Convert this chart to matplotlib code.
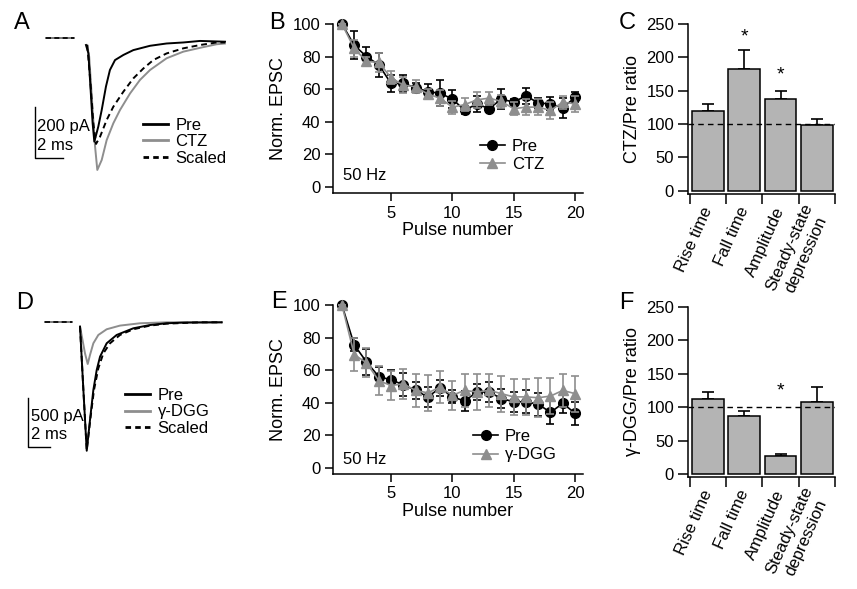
import matplotlib
matplotlib.use("Agg")
import matplotlib.pyplot as plt
from matplotlib.lines import Line2D

plt.rcParams['font.family'] = ['Liberation Sans', 'DejaVu Sans']
plt.rcParams['axes.linewidth'] = 1.1

W, H = 857, 589
fig = plt.figure(figsize=(W / 100, H / 100), dpi=100)

def px_axes(x0, y0, x1, y1):
    return fig.add_axes([x0 / W, 1 - y1 / H, (x1 - x0) / W, (y1 - y0) / H])

def fx(px):
    return px / W

def fy(py):
    return 1 - py / H

# ---------------- data ----------------
# Panel A traces (time in ms, current in pA), digitized
a_base_t = [-2.82, -2.3, -1.8, -1.3, -0.85]
a_base_i = [13, 13, 13, 13, 13]
a_pre_t = [0.0, 0.17, 0.33, 0.47, 0.59, 0.87, 1.11, 1.41, 1.69, 2.05, 2.64, 3.34, 4.52, 5.69, 6.87, 8.05, 9.81]
a_pre_i = [-13, -45, -190, -320, -392, -333, -268, -176, -111, -72, -52, -33, -16, -7, -3, 3, 0]
a_ctz_t = [0.09, 0.23, 0.47, 0.64, 0.8, 1.11, 1.46, 1.93, 2.4, 3.11, 3.81, 4.52, 5.69, 6.87, 8.05, 9.22, 9.81]
a_ctz_i = [-13, -60, -268, -410, -503, -464, -386, -320, -268, -203, -150, -111, -65, -39, -24, -10, -7]
a_scl_t = [0.09, 0.3, 0.52, 0.71, 0.99, 1.46, 1.93, 2.64, 3.34, 4.05, 4.75, 5.69, 6.87, 8.05, 9.22, 9.81]
a_scl_i = [-13, -150, -320, -401, -373, -307, -255, -196, -144, -105, -72, -46, -26, -13, -3, -3]
a_bar_ms, a_bar_pA = 2, 200

# Panel D traces
d_base_t = [-3.23, -2.6, -2.0, -1.4, -0.77]
d_base_i = [7, 7, 7, 7, 7]
d_pre_t = [0.0, 0.31, 0.62, 0.92, 1.23, 1.54, 1.85, 2.46, 3.38, 4.92, 6.46, 8.0, 9.54, 13.08]
d_pre_i = [-45, -700, -1328, -1010, -700, -493, -355, -217, -131, -62, -28, -10, -3, 0]
d_dgg_t = [0.0, 0.46, 0.71, 0.92, 1.23, 1.69, 2.46, 3.69, 5.54, 8.0, 13.08]
d_dgg_i = [-45, -321, -431, -338, -217, -131, -72, -34, -10, 0, 0]
d_scl_t = [0.0, 0.31, 0.62, 0.98, 1.29, 1.69, 2.15, 2.77, 3.69, 4.92, 6.46, 8.0, 11.08, 13.08]
d_scl_i = [-45, -700, -1321, -976, -700, -476, -321, -217, -131, -72, -34, -14, 0, 0]
d_bar_ms, d_bar_pA = 2, 500

# Panels B / E
pulses = [1, 2, 3, 4, 5, 6, 7, 8, 9, 10, 11, 12, 13, 14, 15, 16, 17, 18, 19, 20]
b_pre = [100, 87, 80, 75, 63.5, 63.5, 61, 58.5, 57.5, 54, 47, 51, 48, 54, 52, 56, 51.5, 51, 48.5, 55]
b_pre_err = [0, 8.5, 6, 7.5, 5.5, 5, 3, 4.5, 8, 5.5, 2.5, 5, 2, 6, 2, 5, 3, 4, 6, 3]
b_ctz = [100, 85, 77, 76.5, 67, 62.5, 61.5, 57, 54.5, 49, 50.5, 53.5, 54.5, 52.5, 48, 49, 49, 47, 52, 51]
b_ctz_err = [0, 5, 3, 6, 4, 5, 4, 3, 5, 4, 4, 5, 4, 4, 4, 5, 5, 5, 4, 5]

e_pre = [100, 75.5, 65, 56, 54, 51, 47.5, 43.5, 49, 43.5, 41, 46.5, 46.5, 42.5, 40.5, 40.5, 39, 34, 39.5, 33.5]
e_pre_err = [0, 4, 8, 6, 6, 7, 5, 6, 5, 4, 6, 5, 6, 6, 6, 7, 7, 7, 6, 7]
e_dgg = [100, 69.5, 64.5, 53.5, 50.5, 51.5, 47.5, 46, 49.5, 44.5, 47.5, 46.5, 47.5, 45.5, 43.5, 43.5, 43, 44, 47.5, 45.5]
e_dgg_err = [0, 10, 9, 9, 9, 9, 10, 11, 10, 9, 10, 11, 10, 11, 11, 11, 12, 11, 10, 11]

# Panels C / F
categories = ['Rise time', 'Fall time', 'Amplitude', 'Steady-state\ndepression']
ctz_ratio = [120, 182.5, 138, 99]
ctz_ratio_err = [10, 28.5, 12, 8]
ctz_star = [None, 224, None, None]
ctz_star2 = [None, None, 167, None]
dgg_ratio = [112.5, 87.5, 26.5, 108.5]
dgg_ratio_err = [10, 7.5, 3.5, 21]
dgg_star = [None, None, 117, None]

GRAY = '#8e8e8e'
BAR = '#b4b4b4'
FS = 12

# ---------------- trace panels ----------------
def trace_panel(box, xlim, ylim, base_t, base_i, pre, drug, scl, bar, bar_texts, leg_labels, leg_pos):
    ax = px_axes(*box)
    ax.set_xlim(*xlim)
    ax.set_ylim(*ylim)
    ax.axis('off')
    for col, ls in (('black', '-'), (GRAY, '-'), ('black', (0, (3, 2)))):
        ax.plot(base_t, base_i, color=col, lw=1.2, ls=ls)
    ax.plot(drug[0], drug[1], color=GRAY, lw=1.4, label=leg_labels[1])
    ax.plot(pre[0], pre[1], color='black', lw=1.4, label=leg_labels[0])
    ax.plot(scl[0], scl[1], color='black', lw=1.4, ls=(0, (3, 2)), label=leg_labels[2])
    (bt, bi, bms, bpa) = bar
    ax.plot([bt, bt, bt + bms], [bi + bpa, bi, bi], color='black', lw=1.0)
    for (tx, ty, s) in bar_texts:
        ax.text(tx, ty, s, fontsize=FS, va='center', ha='left')
    handles = [Line2D([], [], color='black', lw=2),
               Line2D([], [], color=GRAY, lw=2),
               Line2D([], [], color='black', lw=2, ls=(0, (2, 1.5)))]
    ax.legend(handles, leg_labels, loc='upper left', bbox_to_anchor=(fx(leg_pos[0]), fy(leg_pos[1])),
              bbox_transform=fig.transFigure, frameon=False, fontsize=FS, borderpad=0,
              borderaxespad=0, handlelength=1.5, handletextpad=0.45, labelspacing=0.08)
    return ax

trace_panel((30, 30, 240, 185), (-3.95, 10.87), (-562, 45.9),
            a_base_t, a_base_i, (a_pre_t, a_pre_i), (a_ctz_t, a_ctz_i), (a_scl_t, a_scl_i),
            (-3.6, -458, a_bar_ms, a_bar_pA),
            [(-3.46, -333, '200 pA'), (-3.46, -408, '2 ms')],
            ['Pre', 'CTZ', 'Scaled'], (143, 118))

trace_panel((25, 300, 240, 470), (-5.08, 14.77), (-1527, 230.6),
            d_base_t, d_base_i, (d_pre_t, d_pre_i), (d_dgg_t, d_dgg_i), (d_scl_t, d_scl_i),
            (-4.77, -1286, d_bar_ms, d_bar_pA),
            [(-4.52, -976, '500 pA'), (-4.52, -1165, '2 ms')],
            ['Pre', 'γ-DGG', 'Scaled'], (125, 388))

# ---------------- train panels ----------------
def train_panel(box, ylim, pre, pre_err, drug, drug_err, drug_label, leg_pos, hz_pos):
    ax = px_axes(*box)
    ax.errorbar(pulses, pre, yerr=pre_err, fmt='none', ecolor='black', elinewidth=1.2,
                capsize=3.2, capthick=1.2, clip_on=False)
    ax.plot(pulses, pre, color='black', lw=1.2, marker='o', ms=7, clip_on=False, label='Pre')
    ax.errorbar(pulses, drug, yerr=drug_err, fmt='none', ecolor=GRAY, elinewidth=1.2,
                capsize=3.2, capthick=1.2, clip_on=False)
    ax.plot(pulses, drug, color=GRAY, lw=1.2, marker='^', ms=7, clip_on=False, label=drug_label)
    ax.set_xlim(0.27, 20.65)
    ax.set_ylim(*ylim)
    ax.set_xticks([5, 10, 15, 20])
    ax.set_yticks([0, 20, 40, 60, 80, 100])
    for s in ('top', 'right'):
        ax.spines[s].set_visible(False)
    ax.tick_params(direction='out', length=6, width=1.1, labelsize=FS, pad=3)
    ax.set_xlabel('Pulse number', fontsize=13, labelpad=1)
    ax.set_ylabel('Norm. EPSC', fontsize=13, labelpad=4)
    ax.legend(loc='upper left', bbox_to_anchor=(fx(leg_pos[0]), fy(leg_pos[1])),
              bbox_transform=fig.transFigure, frameon=False, fontsize=FS, borderpad=0,
              borderaxespad=0, handlelength=1.5, handletextpad=0.4, labelspacing=0.2)
    fig.text(fx(hz_pos[0]), fy(hz_pos[1]), '50 Hz', fontsize=FS, va='center', ha='left')
    return ax

train_panel((333, 24, 583, 193), (-3.7, 100), b_pre, b_pre_err, b_ctz, b_ctz_err, 'CTZ',
            (480, 139), (343, 176))
train_panel((333, 305, 583, 474), (-3.9, 100), e_pre, e_pre_err, e_dgg, e_dgg_err, 'γ-DGG',
            (473, 429), (343, 459))

# ---------------- ratio panels ----------------
def ratio_panel(box, ylim, vals, errs, stars, ylabel):
    ax = px_axes(*box)
    xs = list(range(len(categories)))
    ax.bar(xs, vals, width=0.87, color=BAR, edgecolor='black', linewidth=1.1, zorder=2)
    ax.errorbar(xs, vals, yerr=[[0] * len(vals), errs], fmt='none', ecolor='black',
                elinewidth=1.2, capsize=4, capthick=1.2, zorder=1)
    ax.axhline(100, color='black', lw=1.0, ls=(0, (4, 3)), zorder=3)
    for st in stars:
        for i, v in enumerate(st):
            if v is not None:
                ax.text(xs[i], v, '*', fontsize=14, ha='center', va='baseline')
    ax.set_xlim(-0.55, 3.5)
    ax.set_ylim(*ylim)
    ax.set_yticks([0, 50, 100, 150, 200, 250])
    ax.set_xticks([-0.5, 0.5, 1.5, 2.5, 3.5])
    ax.set_xticklabels([])
    ax.set_xticks(xs, minor=True)
    ax.set_xticklabels(categories, minor=True, rotation=66, ha='right', va='center',
                       rotation_mode='anchor', fontsize=FS, multialignment='center')
    ax.tick_params(axis='x', which='minor', length=0, pad=10)
    ax.tick_params(axis='both', which='major', direction='out', length=7, width=1.1, labelsize=FS, pad=3)
    for s in ('top', 'right'):
        ax.spines[s].set_visible(False)
    ax.set_ylabel(ylabel, fontsize=13, labelpad=4)
    return ax

ratio_panel((688, 24, 835, 194), (-5, 250), ctz_ratio, ctz_ratio_err, [ctz_star, ctz_star2], 'CTZ/Pre ratio')
ratio_panel((688, 307, 835, 477), (-4.5, 250), dgg_ratio, dgg_ratio_err, [dgg_star], 'γ-DGG/Pre ratio')

# ---------------- panel letters ----------------
for lab, x, y in (('A', 14, 29), ('B', 269, 29), ('C', 619, 29),
                  ('D', 16, 309), ('E', 271, 308), ('F', 619, 309)):
    fig.text(fx(x), fy(y), lab, fontsize=17, va='baseline', ha='left')

fig.savefig('out.png', dpi=100)
